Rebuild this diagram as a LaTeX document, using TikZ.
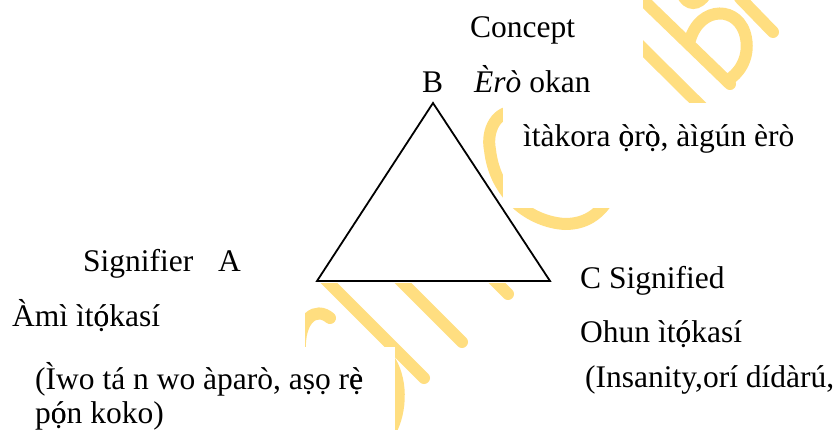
\documentclass[tikz,border=0pt]{standalone}
\usepackage{fontspec}
\setmainfont{Liberation Serif}
\usetikzlibrary{positioning}
\definecolor{wmyellow}{RGB}{255,222,128}
\definecolor{triline}{RGB}{0,0,0}
% Yoruba letters with tone mark and dot below
\newcommand{\yogr}{\ooalign{ọ\cr ò}}
\newcommand{\yoac}{\ooalign{ọ\cr ó}}
\newcommand{\yegr}{\ooalign{ẹ\cr è}}

\begin{document}
\begin{tikzpicture}[
  x=1pt, y=-1pt,
  lbl/.style={anchor=base west, inner sep=0pt, font=\fontsize{31.5}{33}\selectfont},
  wm/.style={draw=wmyellow, line width=12pt, line cap=round},
  blank/.style={fill=white, draw=none}
]
\useasboundingbox (0,0) rectangle (840,430);
\fill[white] (0,0) rectangle (840,430);

% ---- watermark
\begin{scope}
\clip (0,0) rectangle (840,430);
\draw[wm] (610,16) -- (722,127);
\draw[wm] (640,-3) -- (730,84);
\draw[wm] (690,40) .. controls (700,5) and (740,5) .. (746,38)
  .. controls (750,60) and (737,75) .. (728,80);
\draw[wm] (682,-6) .. controls (688,6) and (698,6) .. (706,-6);
\draw[wm] (740,-2) -- (773,32);
\draw[wm] (515,112) .. controls (497,110) and (486,130) .. (490,150)
  .. controls (495,195) and (530,222) .. (565,224)
  .. controls (585,224) and (598,215) .. (608,200);
\draw[wm] (300,352) .. controls (298,318) and (316,306) .. (330,318);
\draw[wm] (388,358) .. controls (402,378) and (402,410) .. (390,432);
\end{scope}
\begin{scope}
\clip (0,283) rectangle (840,430);
\draw[wm] (324,278) -- (424,378);
\draw[wm] (392,272) -- (462,342);
\draw[wm] (490,276) -- (508,294);
\end{scope}

% ---- text boxes (white)
\fill[blank] (455,0) rectangle (643,103);
\fill[blank] (503,103) rectangle (840,208);
\fill[blank] (0,300) rectangle (305,347);
\fill[blank] (0,347) rectangle (395,430);

% ---- triangle
\coordinate (ta) at (317,281);
\coordinate (tb) at (433,103);
\coordinate (tc) at (550,281);
\filldraw[fill=white, draw=triline, line width=1.8pt] (ta) -- (tb) -- (tc) -- cycle;

% ---- labels
\node[lbl] (concept) at (470,38) {Concept};
\node[lbl] (vb) at (422,93) {B};
\node[lbl] (ero) at (474,93) {\textit{Èrò} okan};
\node[lbl] (itakora) at (523,147) {ìtàkora \yogr r\yogr, àìgún èrò};
\node[lbl] (signifier) at (83,271) {Signifier};
\node[lbl] (va) at (218,271) {A};
\node[lbl] (ami) at (12,326) {Àmì ìt\yoac kasí};
\node[lbl] (iwo) at (35,389) {(Ìwo tá n wo àparò, aṣọ r\yegr};
\node[lbl] (pon) at (35,423) {p\yoac n koko)};
\node[lbl] (vc) at (580,288) {C};
\node[lbl] (signified) at (609,288) {Signified};
\node[lbl] (ohun) at (580,342) {Ohun ìt\yoac kasí};
\node[lbl] (insanity) at (585,387) {(Insanity,orí dídàrú,};
\end{tikzpicture}
\end{document}
